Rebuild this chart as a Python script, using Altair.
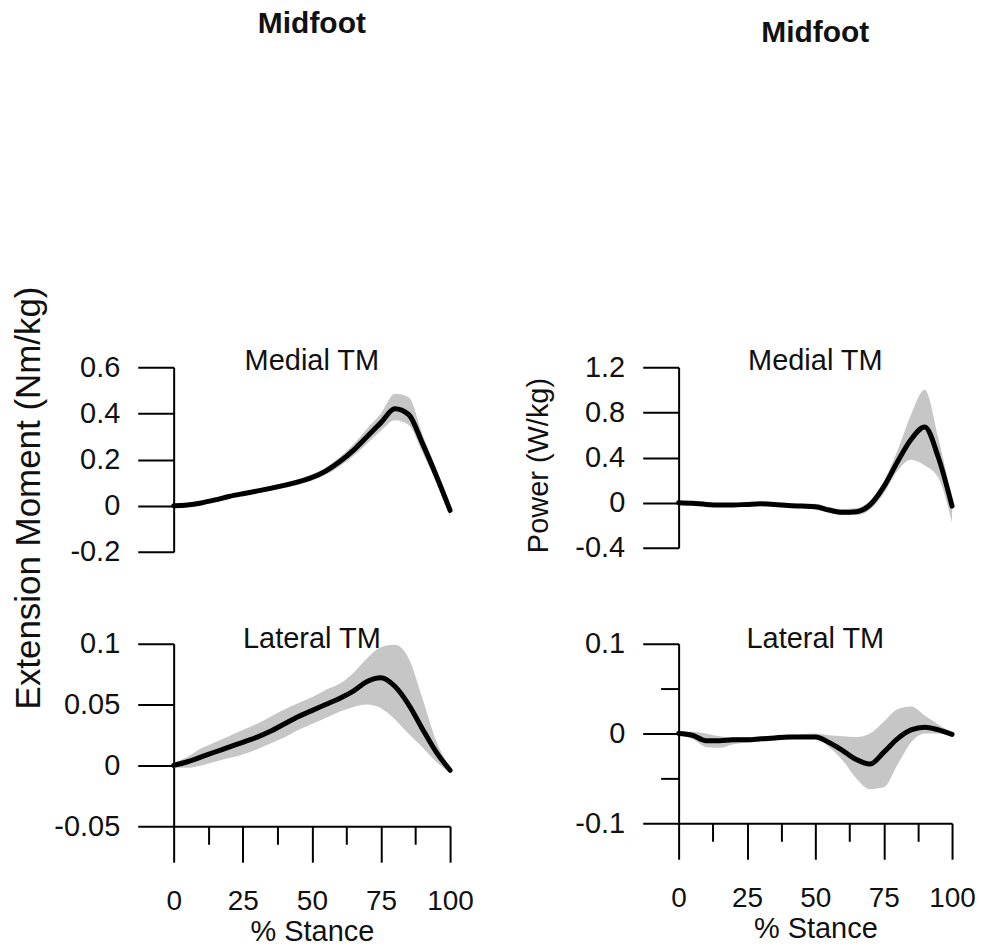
import json
import altair as alt
import pandas as pd

FONT = "Liberation Sans"

stance = [0, 5, 10, 15, 20, 25, 30, 35, 40, 45, 50, 55, 60, 65, 70, 75, 80, 85, 90, 95, 100]

# Medial TM extension moment (Nm/kg)
mm_mean = [0.0, 0.003, 0.012, 0.025, 0.040, 0.052, 0.063, 0.075, 0.088, 0.103, 0.122, 0.150, 0.190, 0.240, 0.300, 0.360, 0.420, 0.395, 0.270, 0.130, -0.020]
mm_lo = [-0.005, -0.002, 0.006, 0.018, 0.032, 0.044, 0.054, 0.065, 0.077, 0.091, 0.108, 0.134, 0.170, 0.215, 0.270, 0.325, 0.370, 0.350, 0.230, 0.100, -0.050]
mm_hi = [0.005, 0.008, 0.018, 0.032, 0.048, 0.060, 0.072, 0.085, 0.099, 0.115, 0.136, 0.166, 0.210, 0.265, 0.335, 0.400, 0.485, 0.470, 0.310, 0.160, 0.010]

# Lateral TM extension moment (Nm/kg)
lm_mean = [0.0, 0.003, 0.007, 0.011, 0.015, 0.019, 0.023, 0.028, 0.034, 0.040, 0.045, 0.050, 0.055, 0.061, 0.069, 0.072, 0.065, 0.050, 0.030, 0.011, -0.004]
lm_lo = [-0.002, -0.002, 0.000, 0.003, 0.006, 0.009, 0.013, 0.018, 0.023, 0.029, 0.034, 0.039, 0.044, 0.048, 0.050, 0.047, 0.038, 0.026, 0.015, 0.003, -0.006]
lm_hi = [0.002, 0.007, 0.014, 0.019, 0.024, 0.029, 0.034, 0.040, 0.046, 0.051, 0.056, 0.062, 0.067, 0.076, 0.088, 0.097, 0.099, 0.088, 0.055, 0.020, -0.002]

# Medial TM power (W/kg)
mp_mean = [0.0, -0.005, -0.015, -0.020, -0.020, -0.015, -0.010, -0.015, -0.025, -0.030, -0.035, -0.065, -0.085, -0.080, -0.020, 0.140, 0.360, 0.560, 0.670, 0.400, -0.030]
mp_lo = [-0.010, -0.015, -0.025, -0.030, -0.030, -0.025, -0.020, -0.025, -0.040, -0.050, -0.060, -0.090, -0.110, -0.110, -0.060, 0.080, 0.280, 0.380, 0.330, 0.220, -0.180]
mp_hi = [0.010, 0.005, -0.005, -0.010, -0.010, -0.005, 0.000, -0.005, -0.010, -0.010, -0.010, -0.040, -0.055, -0.050, 0.020, 0.190, 0.460, 0.780, 1.000, 0.570, 0.020]

# Lateral TM power (W/kg)
lp_mean = [0.0, -0.002, -0.008, -0.008, -0.007, -0.007, -0.006, -0.005, -0.004, -0.004, -0.004, -0.010, -0.019, -0.029, -0.034, -0.021, -0.006, 0.004, 0.007, 0.004, -0.001]
lp_lo = [-0.002, -0.006, -0.015, -0.016, -0.012, -0.010, -0.009, -0.008, -0.007, -0.006, -0.006, -0.015, -0.030, -0.050, -0.062, -0.060, -0.035, -0.010, 0.000, 0.000, -0.003]
lp_hi = [0.002, 0.002, 0.000, -0.003, -0.004, -0.004, -0.004, -0.003, -0.002, -0.001, 0.000, -0.002, -0.003, -0.004, 0.000, 0.013, 0.027, 0.030, 0.020, 0.010, 0.001]

# Axis ticks
mm_major = [-0.2, 0, 0.2, 0.4, 0.6]
mm_minor = [-0.1, 0.1, 0.3, 0.5]
lm_major = [-0.05, 0, 0.05, 0.1]
lm_minor = [-0.025, 0.025, 0.075]
mp_major = [-0.4, 0, 0.4, 0.8, 1.2]
mp_minor = [-0.2, 0.2, 0.6, 1.0]
lp_major = [-0.1, 0, 0.1]
lp_minor = [-0.05, 0.05]
x_major = [0, 25, 50, 75, 100]
x_minor = [12.5, 37.5, 62.5, 87.5]

BAND = "#c6c6c6"
MAJOR_LEN = 36
MINOR_LEN = 18


def tick_axis(major, minor, **kw):
    test = f"indexof({json.dumps(major)}, datum.value) >= 0"
    return alt.Axis(
        values=sorted(major + minor),
        labelExpr=f"{test} ? replace(format(datum.value, '~g'), '\u2212', '-') : ''",
        tickSize={"condition": {"test": test, "value": MAJOR_LEN}, "value": MINOR_LEN},
        labelFlush=False,
        labelOverlap=False,
        grid=False,
        **kw,
    )


def panel(mean, lo, hi, major, minor, title, width, height, show_x, y_axis_kw):
    df = pd.DataFrame({"stance": stance, "mean": mean, "lo": lo, "hi": hi})
    if show_x:
        xaxis = tick_axis(x_major, x_minor, title="% Stance", labelPadding=25,
                          labelFontSize=28, titlePadding=2)
    else:
        xaxis = None
    x = alt.X("stance:Q", scale=alt.Scale(domain=[0, 100], nice=False), axis=xaxis)
    y_scale = alt.Scale(domain=[min(major), max(major)], nice=False, zero=False)
    band = alt.Chart(df).mark_area(color=BAND, interpolate="monotone").encode(
        x=x,
        y=alt.Y("lo:Q", scale=y_scale, axis=tick_axis(major, minor, labelPadding=18, **y_axis_kw)),
        y2="hi:Q",
    )
    line = alt.Chart(df).mark_line(color="black", strokeWidth=5, interpolate="monotone",
                                   strokeCap="round").encode(x=x, y=alt.Y("mean:Q", scale=y_scale))
    return alt.layer(band, line).properties(width=width, height=height, title=title)


def top_title(subpad):
    return alt.TitleParams(
        "Midfoot", subtitle="Medial TM",
        fontSize=30, fontWeight="bold", font=FONT, color="#111",
        subtitleFontSize=29, subtitleFontWeight="normal", subtitleFont=FONT,
        subtitleColor="#111", subtitlePadding=subpad,
        anchor="middle", frame="group", baseline="alphabetic", dy=51,
    )


def bottom_title():
    return alt.TitleParams(
        "Lateral TM", fontSize=29, fontWeight="normal", font=FONT, color="#111",
        anchor="middle", frame="group", baseline="alphabetic", dy=51,
    )


lt = panel(mm_mean, mm_lo, mm_hi, mm_major, mm_minor, top_title(308),
           277, 185, False, {"title": None})
rt = panel(mp_mean, mp_lo, mp_hi, mp_major, mp_minor, top_title(299), 274, 181, False,
           {"title": "Power (W/kg)", "titleX": -125, "titleY": 98, "titleFontSize": 29,
            "titleFontWeight": "normal", "titleAlign": "center", "titleBaseline": "bottom",
            "titleAngle": 270})
lb = panel(lm_mean, lm_lo, lm_hi, lm_major, lm_minor, bottom_title(), 277, 183, True, {"title": None})
rb = panel(lp_mean, lp_lo, lp_hi, lp_major, lp_minor, bottom_title(), 274, 180, True, {"title": None})

chart = alt.concat(
    lt, rt, lb, rb, columns=2, bounds="flush", align="none",
    spacing={"row": 92, "column": 229},
    title=alt.TitleParams("Extension Moment (Nm/kg)", orient="left", anchor="middle",
                          frame="group", fontSize=35, fontWeight="normal", font=FONT,
                          offset=7, dx=-131, color="#111"),
).configure_view(stroke=None).configure_axis(
    domainColor="black", domainWidth=2, tickColor="black", tickWidth=2,
    labelFont=FONT, labelFontSize=29, labelColor="#111",
    titleFont=FONT, titleFontSize=29, titleFontWeight="normal", titleColor="#111",
).properties(padding={"left": 3, "top": 0, "right": 0, "bottom": 0})

chart.save("out.html", embed_options={"renderer": "svg", "actions": False})
